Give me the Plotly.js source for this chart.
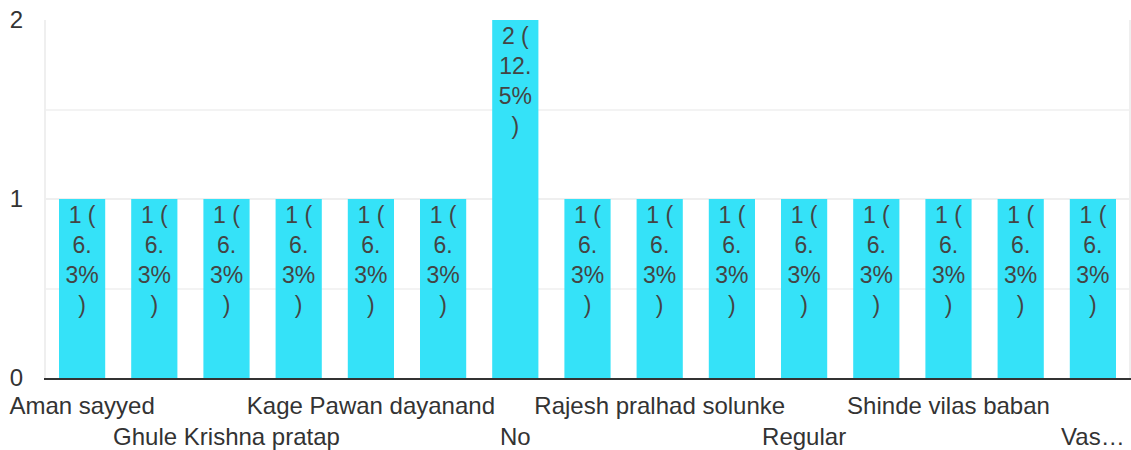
<!DOCTYPE html>
<html>
<head>
<meta charset="utf-8">
<script src="https://cdn.plot.ly/plotly-3.0.1.min.js"></script>
<style>
html,body{margin:0;padding:0;background:#fff;}
#chart{width:1131px;height:450px;}
</style>
</head>
<body>
<div id="chart"></div>
<script>
// Tick labels as shown (only every other category label is drawn in the reference)
const tickLabels = [
  "Aman sayyed", "", "Ghule Krishna pratap", "", "Kage Pawan dayanand", "",
  "No", "", "Rajesh pralhad solunke", "", "Regular", "", "Shinde vilas baban", "", "Vas\u2026"
];
const counts = [1, 1, 1, 1, 1, 1, 2, 1, 1, 1, 1, 1, 1, 1, 1];
const percents = ["6.3%", "6.3%", "6.3%", "6.3%", "6.3%", "6.3%", "12.5%", "6.3%", "6.3%", "6.3%", "6.3%", "6.3%", "6.3%", "6.3%", "6.3%"];

const xs = counts.map((_, i) => i);
const barText = counts.map((c, i) => {
  const p = percents[i];
  const dot = p.indexOf(".");
  return c + " (<br>" + p.slice(0, dot + 1) + "<br>" + p.slice(dot + 1) + "<br>)";
});
const tickText = tickLabels.map((t, i) => (i % 4 === 2 ? "<br>" + t : t));

const FONT = "Liberation Sans, Arial, sans-serif";

Plotly.newPlot("chart", [{
  type: "bar",
  x: xs,
  y: counts,
  text: barText,
  textposition: "inside",
  insidetextanchor: "end",
  textangle: 0,
  constraintext: "none",
  insidetextfont: {family: FONT, size: 23, color: "#444"},
  marker: {color: "#35e2f8", line: {width: 0}},
  hoverinfo: "none"
}], {
  width: 1131,
  height: 450,
  margin: {l: 46, r: 2, t: 20, b: 72, pad: 0},
  paper_bgcolor: "#fff",
  plot_bgcolor: "#fff",
  bargap: 0.36,
  showlegend: false,
  font: {family: FONT, size: 24, color: "#333"},
  xaxis: {
    range: [-0.5, 14.5],
    tickmode: "array",
    tickvals: xs,
    ticktext: tickText,
    tickangle: 0,
    ticks: "",
    ticklabelstandoff: 5,
    showgrid: false,
    zeroline: false,
    showline: true,
    linecolor: "#333",
    linewidth: 2,
    tickfont: {family: FONT, size: 24, color: "#333"},
    fixedrange: true
  },
  yaxis: {
    range: [0, 2],
    tickmode: "linear",
    tick0: 0,
    dtick: 1,
    ticks: "",
    ticklabelstandoff: 16,
    showgrid: true,
    gridcolor: "#efefef",
    gridwidth: 2,
    minor: {dtick: 0.5, showgrid: true, gridcolor: "#f3f3f3", gridwidth: 2},
    zeroline: false,
    showline: true,
    mirror: true,
    linecolor: "#efefef",
    linewidth: 2,
    tickfont: {family: FONT, size: 24, color: "#333"},
    fixedrange: true
  }
}, {displayModeBar: false, staticPlot: true});
</script>
</body>
</html>
